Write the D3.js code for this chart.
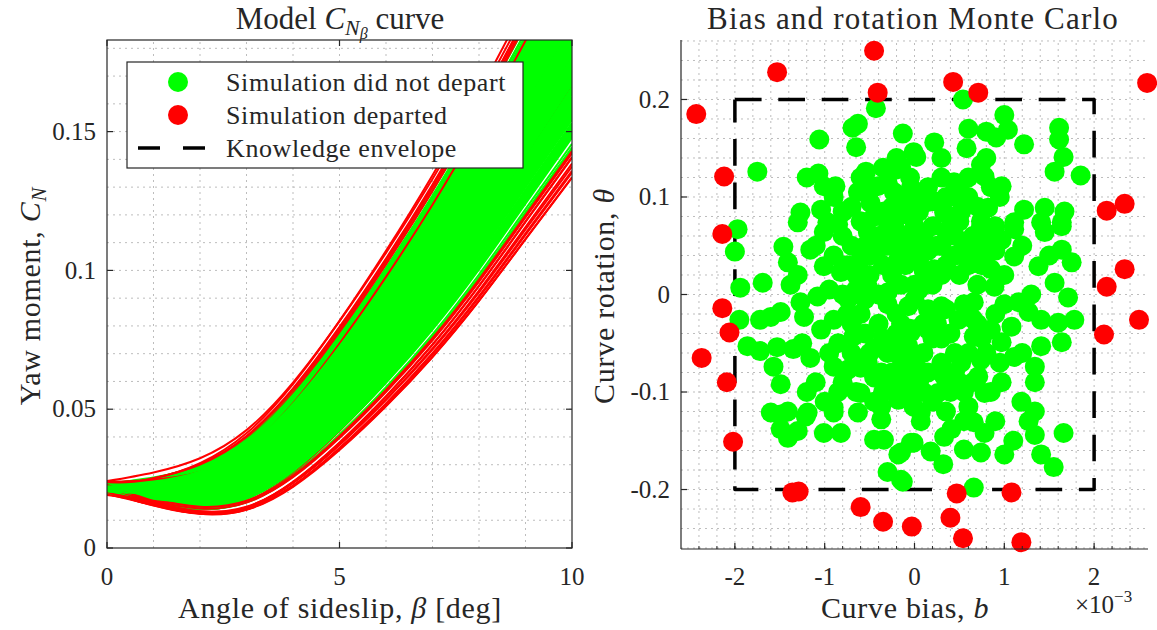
<!DOCTYPE html>
<html>
<head>
<meta charset="utf-8">
<script src="https://cdn.jsdelivr.net/npm/d3@7"></script>
<style>
  body { margin: 0; background: #fff; }
  text { font-family: "Liberation Serif", "Times New Roman", serif; fill: #262626; }
</style>
</head>
<body>
<svg id="fig" width="1157" height="630"></svg>
<script>
"use strict";

// ---------- data ----------
// nominal yaw moment curve (b = 0, theta = 0)
var betaGrid  = [0, 1, 2, 3, 4, 5, 6, 7, 8, 9, 10];
var cnNominal = [0.0215, 0.0205, 0.0215, 0.0275, 0.0405, 0.0585, 0.079, 0.1015, 0.1265, 0.1535, 0.1805];
var rotSlope = 0.019;   // change of C_N per deg of sideslip per unit rotation

// Monte Carlo samples: [bias (x1e-3), rotation]
var greenPts = [
  [-0.43,0.191],[-0.63,0.175],[-0.69,0.171],[-0.65,0.151],[-1.06,0.159],[-0.13,0.165],[-0.01,0.146],
  [-0.21,0.128],[-0.54,0.126],[-1.07,0.124],[-1.75,0.126],[-1.01,0.111],[-0.88,0.111],[-0.63,0.105],
  [-0.41,0.111],[-0.23,0.105],[-0.04,0.110],[-1.27,0.084],[-1.04,0.087],[-0.79,0.085],[-0.49,0.094],
  [-0.34,0.085],[-0.18,0.080],[-0.04,0.080],[-1.97,0.067],
  [0.54,0.200],[1.00,0.184],[0.60,0.170],[0.80,0.167],[0.91,0.161],[1.04,0.169],[0.22,0.156],
  [0.02,0.141],[0.58,0.150],[1.22,0.154],[1.61,0.171],[1.61,0.159],[1.66,0.141],[1.56,0.126],
  [1.85,0.122],[0.74,0.133],[0.78,0.121],[0.44,0.115],[0.97,0.111],[0.16,0.095],[-0.09,0.092],
  [0.82,0.089],[0.60,0.094],[1.22,0.087],[1.45,0.089],[1.67,0.085],[0.74,0.075],[1.11,0.074],
  [1.41,0.074],[1.64,0.074],[0.33,0.084],[0.52,0.085],[-0.15,0.131],
  [-2.00,0.044],[-1.94,0.007],[-1.95,-0.026],[-1.69,0.012],[-1.46,0.049],[-1.41,0.033],[-1.38,0.010],
  [-1.60,-0.023],[-1.72,-0.026],[-1.49,-0.018],[-1.86,-0.053],[-1.72,-0.058],[-1.53,-0.054],[-1.35,-0.056],
  [-1.57,-0.074],[-1.49,-0.092],[-1.16,-0.065],[-1.10,-0.090],[-1.60,-0.121],[-1.41,-0.120],[-1.19,-0.121],
  [-0.90,-0.116],[-1.16,0.046],[-1.01,0.064],[-1.30,0.074],[-1.01,0.029],[-1.23,-0.023],[-1.04,-0.036],
  [-0.90,-0.026],[-1.08,-0.002],[-1.27,-0.008],[-0.82,0.023],[-0.60,0.036],[-0.52,0.008],[-0.74,-0.005],
  [-0.68,-0.043],[-0.90,-0.074],[-0.74,-0.077],[-0.52,-0.070],[-0.60,-0.101],[-0.37,-0.080],[-0.30,-0.094],
  [-0.15,-0.087],[-0.37,-0.115],[-0.18,-0.108],[-0.01,-0.115],[-0.37,0.049],[-0.18,0.036],[-0.30,0.002],
  [-0.07,-0.012],[-0.04,-0.039],[-0.23,-0.053],[-0.01,-0.067],[-0.52,0.064],[-0.30,0.074],[-0.01,0.056],
  [-0.97,0.074],[-0.85,0.072],
  [0.74,0.070],[0.97,0.056],[1.11,0.067],[1.45,0.064],[1.64,0.070],[1.64,0.046],[1.75,0.033],
  [1.38,0.029],[1.11,0.039],[0.85,0.026],[1.56,0.012],[1.71,-0.003],[1.78,-0.026],[1.60,-0.029],
  [1.64,-0.049],[1.41,-0.053],[1.34,-0.074],[1.34,-0.090],[1.11,-0.064],[0.97,-0.090],[0.71,-0.084],
  [0.52,-0.070],[0.33,-0.084],[0.26,-0.101],[0.07,-0.121],[0.60,-0.115],[0.78,-0.101],[1.19,-0.110],
  [1.34,-0.120],[1.16,-0.008],[1.27,-0.018],[1.41,-0.026],[1.08,-0.033],[0.85,-0.036],[0.66,-0.043],
  [0.89,0.008],[0.82,0.043],[0.60,0.046],[0.41,0.039],[0.22,0.026],[-0.01,0.049],[0.07,0.008],
  [0.30,-0.012],[0.49,-0.026],[0.15,-0.036],[-0.07,-0.053],[0.04,-0.077],[0.66,-0.008],[0.97,-0.049],
  [0.74,-0.067],
  [-1.49,-0.123],[-1.21,-0.125],[-1.41,-0.147],[-1.49,-0.138],[-1.01,-0.142],[-0.82,-0.142],[-0.90,-0.121],
  [-0.63,-0.121],[-0.45,-0.149],[-0.34,-0.149],[-0.18,-0.164],[-0.30,-0.182],[-0.13,-0.192],[-0.01,-0.152],
  [-0.37,-0.128],
  [0.07,-0.130],[-0.04,-0.152],[0.18,-0.161],[0.32,-0.174],[0.41,-0.138],[0.33,-0.146],[0.55,-0.159],
  [0.66,-0.131],[0.78,-0.142],[0.74,-0.162],[1.00,-0.164],[0.66,-0.198],[-0.15,-0.190],[1.27,-0.130],
  [1.34,-0.144],[1.41,-0.164],[1.55,-0.177],[1.66,-0.142],[-0.15,-0.162],
  [-0.50,0.020],[-0.30,0.050],[-0.10,0.030],[0.10,0.060],[0.30,0.050],[0.50,0.020],[0.70,0.010],
  [-0.60,-0.020],[-0.40,-0.030],[-0.20,-0.020],[0.00,-0.005],[0.20,0.010],[0.40,-0.040],[0.60,-0.060],
  [-0.50,-0.060],[-0.30,-0.060],[-0.10,-0.080],[0.10,-0.060],[0.30,-0.070],[0.50,-0.090],[-0.45,0.080],
  [-0.25,0.090],[0.05,0.085],[0.20,0.070],[0.40,0.080],[-0.70,0.050],[-0.80,0.000],[-0.85,-0.050],
  [-0.65,-0.100],[-0.45,-0.110],[-0.20,-0.100],[0.10,-0.100],[0.35,-0.120],[0.55,-0.130],[-0.05,0.120],
  [0.15,0.110],[0.35,0.100],[-0.35,0.130],[0.90,-0.020],[1.00,0.020],[1.20,0.050],[1.30,0.000],
  [1.20,-0.060],[0.90,-0.130],[1.10,-0.150],[-1.20,0.120],[-1.30,0.020],[-1.25,-0.050],[-1.20,-0.100],
  [-1.00,-0.110],[-1.30,-0.140],[-0.60,0.120],[0.60,0.120],[0.80,0.140],[0.30,0.140],[-0.20,0.140],
  [0.00,0.010],[0.25,-0.030],[-0.15,0.060],[0.45,0.040],[0.65,0.060],[-0.90,0.100],[-0.75,0.030],
  [-1.10,0.050],[1.50,0.040],
  [-0.95,0.005],[-0.80,0.060],[-0.65,0.020],[-0.55,0.050],[-0.40,0.000],[-0.35,0.030],[-0.20,0.065],
  [-0.15,0.010],[-0.05,0.100],[0.05,0.035],[0.15,-0.015],[0.25,0.095],[0.30,0.020],[0.45,0.060],
  [0.55,-0.010],[0.60,0.100],[0.75,0.030],[0.80,-0.060],[0.65,-0.090],[0.45,-0.060],[0.40,-0.100],
  [0.20,-0.045],[0.05,-0.090],[-0.05,-0.035],[-0.15,-0.065],[-0.25,-0.080],[-0.45,-0.085],[-0.55,-0.040],
  [-0.70,-0.060],[-0.80,-0.090],[-0.95,-0.060],[-0.70,0.090],[-0.50,0.110],[-0.30,0.115],[0.00,0.070],
  [0.15,0.045],[0.30,0.120],[0.50,0.110],[0.70,0.090],[0.85,0.110],[0.90,0.070],[1.00,-0.010],
  [0.95,-0.070],[0.85,-0.100],[0.10,-0.030],[-0.35,-0.045],[-0.60,0.075],[-0.25,0.020],[0.35,-0.015],
  [0.55,0.050],
  [-0.90,0.040],[-0.70,-0.030],[-0.50,0.040],[-0.30,-0.010],[-0.10,0.045],[0.10,0.025],[0.30,-0.045],
  [0.50,0.075],[0.70,-0.030],[0.90,0.045],[-0.85,-0.100],[-0.65,0.005],[-0.45,-0.055],[-0.25,0.055],
  [-0.05,-0.100],[0.15,-0.080],[0.35,0.030],[0.55,-0.100],[0.75,-0.045],[0.95,0.100],[-0.60,-0.075],
  [-0.40,0.060],[-0.20,-0.040],[0.00,0.100],[0.20,-0.110],[0.40,0.100],[0.60,0.030],[0.80,0.060],
  [-0.80,0.085],[-0.10,-0.050],[0.25,0.050],[0.45,-0.080],[0.65,-0.025],[-0.35,-0.100],[-0.55,-0.005],
  [0.05,0.005],[-0.15,-0.030],[0.35,0.065],[0.70,0.045],[-0.75,-0.020]
];
var redPts = [
  [-0.45,0.250],[-1.53,0.228],[-0.41,0.207],[0.43,0.218],[0.71,0.207],[2.59,0.217],[-2.43,0.185],
  [-2.12,0.121],[-2.14,0.062],[-2.14,-0.014],[-2.06,-0.039],[-2.37,-0.065],[-2.09,-0.090],[-2.02,-0.151],
  [2.14,0.086],[2.34,0.093],[2.34,0.026],[2.14,0.008],[2.50,-0.026],[2.11,-0.041],[-1.36,-0.203],
  [-1.29,-0.202],[-0.60,-0.218],[-0.35,-0.233],[-0.03,-0.238],[0.47,-0.204],[1.08,-0.203],[0.40,-0.229],
  [0.54,-0.250],[1.19,-0.254]
];
// knowledge envelope
var envBias = [-2, 2];
var envRot = [-0.2, 0.2];

var leftXTicks = [0, 5, 10];
var leftYTicks = [0, 0.05, 0.1, 0.15];
var rightXTicks = [-2, -1, 0, 1, 2];
var rightYTicks = [-0.2, -0.1, 0, 0.1, 0.2];
var legendLabels = ["Simulation did not depart", "Simulation departed", "Knowledge envelope"];

var GREEN = "#00ff00", RED = "#ff0000", INK = "#262626", GRID = "#bdbdbd";

var svg = d3.select("#fig");

// ================= left panel =================
var xL = d3.scaleLinear().domain([0, 10]).range([107, 572]);
var yL = d3.scaleLinear().domain([0, 0.183]).range([548, 40]);
var gL = svg.append("g");

svg.append("defs").append("clipPath").attr("id", "clipL")
  .append("rect").attr("x", xL(0)).attr("y", yL(0.183))
  .attr("width", xL(10) - xL(0)).attr("height", yL(0) - yL(0.183));

// dotted grid
gL.selectAll(".gx").data(d3.range(1, 10)).enter().append("line")
  .attr("x1", function(d){ return xL(d); }).attr("x2", function(d){ return xL(d); })
  .attr("y1", yL(0)).attr("y2", yL(0.183))
  .attr("stroke", GRID).attr("stroke-dasharray", "2,4");
gL.selectAll(".gy").data(d3.range(1, 19)).enter().append("line")
  .attr("y1", function(d){ return yL(d / 100); }).attr("y2", function(d){ return yL(d / 100); })
  .attr("x1", xL(0)).attr("x2", xL(10))
  .attr("stroke", GRID).attr("stroke-dasharray", "2,4");

// curves: one per Monte Carlo sample, red ones interleaved in the draw order
var order = [];
var step = greenPts.length / redPts.length;
var ri = 0;
greenPts.forEach(function(p, i) {
  order.push({ p: p, c: GREEN });
  if (ri < redPts.length && i >= Math.floor((ri + 0.5) * step)) {
    order.push({ p: redPts[ri], c: RED });
    ri++;
  }
});
while (ri < redPts.length) { order.push({ p: redPts[ri], c: RED }); ri++; }

var line = d3.line()
  .x(function(d){ return xL(d[0]); })
  .y(function(d){ return yL(d[1]); })
  .curve(d3.curveNatural);

function curveOf(p) {
  return betaGrid.map(function(bt, i) {
    return [bt, cnNominal[i] + p[0] * 1e-3 + p[1] * bt * rotSlope];
  });
}

gL.append("g").attr("clip-path", "url(#clipL)")
  .selectAll("path").data(order).enter().append("path")
  .attr("d", function(d){ return line(curveOf(d.p)); })
  .attr("fill", "none")
  .attr("stroke", function(d){ return d.c; })
  .attr("stroke-width", 2);

// box
gL.append("rect").attr("x", xL(0)).attr("y", yL(0.183))
  .attr("width", xL(10) - xL(0)).attr("height", yL(0) - yL(0.183))
  .attr("fill", "none").attr("stroke", INK).attr("stroke-width", 1.2);

// ticks
leftXTicks.forEach(function(t) {
  gL.append("line").attr("x1", xL(t)).attr("x2", xL(t)).attr("y1", yL(0)).attr("y2", yL(0) - 6)
    .attr("stroke", INK).attr("stroke-width", 1.2);
  gL.append("line").attr("x1", xL(t)).attr("x2", xL(t)).attr("y1", yL(0.183)).attr("y2", yL(0.183) + 6)
    .attr("stroke", INK).attr("stroke-width", 1.2);
  gL.append("text").attr("x", xL(t)).attr("y", 585).attr("text-anchor", "middle")
    .attr("font-size", 25).text(t);
});
leftYTicks.forEach(function(t) {
  gL.append("line").attr("x1", xL(0)).attr("x2", xL(0) + 6).attr("y1", yL(t)).attr("y2", yL(t))
    .attr("stroke", INK).attr("stroke-width", 1.2);
  gL.append("line").attr("x1", xL(10)).attr("x2", xL(10) - 6).attr("y1", yL(t)).attr("y2", yL(t))
    .attr("stroke", INK).attr("stroke-width", 1.2);
  gL.append("text").attr("x", 96).attr("y", yL(t)).attr("dy", "0.33em").attr("text-anchor", "end")
    .attr("font-size", 25).text(t);
});

// legend
var lg = gL.append("g");
lg.append("rect").attr("x", 127).attr("y", 62).attr("width", 396).attr("height", 106)
  .attr("fill", "#fff").attr("stroke", INK).attr("stroke-width", 1.2);
lg.append("circle").attr("cx", 178).attr("cy", 82).attr("r", 10).attr("fill", GREEN);
lg.append("circle").attr("cx", 178).attr("cy", 115).attr("r", 10).attr("fill", RED);
lg.append("line").attr("x1", 138).attr("x2", 205).attr("y1", 148).attr("y2", 148)
  .attr("stroke", "#000").attr("stroke-width", 3.5).attr("stroke-dasharray", "22,23");
legendLabels.forEach(function(s, i) {
  lg.append("text").attr("x", 226).attr("y", 82 + i * 33).attr("dy", "0.33em")
    .attr("font-size", 26).attr("letter-spacing", 0.6).text(s);
});

// title and labels
var tL = svg.append("text").attr("x", 340).attr("y", 29).attr("text-anchor", "middle").attr("font-size", 31);
tL.append("tspan").text("Model ");
tL.append("tspan").attr("font-style", "italic").text("C");
tL.append("tspan").attr("font-style", "italic").attr("font-size", 22).attr("dy", 6).text("N");
tL.append("tspan").attr("font-style", "italic").attr("font-size", 16).attr("dy", 4).text("\u03b2");
tL.append("tspan").attr("dy", -10).text(" curve");

svg.append("text").attr("x", 340).attr("y", 618).attr("text-anchor", "middle").attr("font-size", 30)
  .attr("letter-spacing", 0.7)
  .call(function(t) {
    t.append("tspan").text("Angle of sideslip, ");
    t.append("tspan").attr("font-style", "italic").text("\u03b2");
    t.append("tspan").text(" [deg]");
  });

var yLab = svg.append("text").attr("transform", "translate(40,296) rotate(-90)")
  .attr("text-anchor", "middle").attr("font-size", 30).attr("letter-spacing", 0.7);
yLab.append("tspan").text("Yaw moment, ");
yLab.append("tspan").attr("font-style", "italic").text("C");
yLab.append("tspan").attr("font-style", "italic").attr("font-size", 21).attr("dy", 6).text("N");

// ================= right panel =================
var xR = d3.scaleLinear().domain([-2.6, 2.6]).range([681, 1148]);
var yR = d3.scaleLinear().domain([-0.261, 0.261]).range([549, 40]);
var gR = svg.append("g");

gR.selectAll(".gx").data(d3.range(-12, 13)).enter().append("line")
  .attr("x1", function(d){ return xR(d * 0.2); }).attr("x2", function(d){ return xR(d * 0.2); })
  .attr("y1", yR(-0.261)).attr("y2", yR(0.261))
  .attr("stroke", GRID).attr("stroke-dasharray", "2,4");
gR.selectAll(".gy").data(d3.range(-13, 14)).enter().append("line")
  .attr("y1", function(d){ return yR(d * 0.02); }).attr("y2", function(d){ return yR(d * 0.02); })
  .attr("x1", xR(-2.6)).attr("x2", xR(2.6))
  .attr("stroke", GRID).attr("stroke-dasharray", "2,4");

// knowledge envelope
var env = [[envBias[0], envRot[1]], [envBias[1], envRot[1]], [envBias[1], envRot[0]],
           [envBias[0], envRot[0]], [envBias[0], envRot[1]]];
gR.append("path")
  .attr("d", d3.line().x(function(d){ return xR(d[0]); }).y(function(d){ return yR(d[1]); })(env))
  .attr("fill", "none").attr("stroke", "#000").attr("stroke-width", 3.5)
  .attr("stroke-dasharray", "26.7,16.7").attr("stroke-linejoin", "round");

gR.selectAll(".g").data(greenPts).enter().append("circle")
  .attr("cx", function(d){ return xR(d[0]); }).attr("cy", function(d){ return yR(d[1]); })
  .attr("r", 10).attr("fill", GREEN);
gR.selectAll(".r").data(redPts).enter().append("circle")
  .attr("cx", function(d){ return xR(d[0]); }).attr("cy", function(d){ return yR(d[1]); })
  .attr("r", 10).attr("fill", RED);

// axes (left and bottom only)
gR.append("line").attr("x1", xR(-2.6)).attr("x2", xR(-2.6)).attr("y1", yR(-0.261)).attr("y2", yR(0.261))
  .attr("stroke", INK).attr("stroke-width", 1.2);
gR.append("line").attr("x1", xR(-2.6)).attr("x2", xR(2.6)).attr("y1", yR(-0.261)).attr("y2", yR(-0.261))
  .attr("stroke", INK).attr("stroke-width", 1.2);

d3.range(-12, 13).forEach(function(d) {
  gR.append("line").attr("x1", xR(d * 0.2)).attr("x2", xR(d * 0.2))
    .attr("y1", yR(-0.261)).attr("y2", yR(-0.261) - 3).attr("stroke", INK);
});
rightXTicks.forEach(function(t) {
  gR.append("line").attr("x1", xR(t)).attr("x2", xR(t)).attr("y1", yR(-0.261)).attr("y2", yR(-0.261) - 6)
    .attr("stroke", INK).attr("stroke-width", 1.2);
  gR.append("text").attr("x", xR(t)).attr("y", 585).attr("text-anchor", "middle")
    .attr("font-size", 25).text(t);
});
rightYTicks.forEach(function(t) {
  gR.append("line").attr("x1", xR(-2.6)).attr("x2", xR(-2.6) + 6).attr("y1", yR(t)).attr("y2", yR(t))
    .attr("stroke", INK).attr("stroke-width", 1.2);
  gR.append("text").attr("x", 670).attr("y", yR(t)).attr("dy", "0.33em").attr("text-anchor", "end")
    .attr("font-size", 25).text(t);
});

svg.append("text").attr("x", 913).attr("y", 29).attr("text-anchor", "middle")
  .attr("font-size", 31).attr("letter-spacing", 1.2).text("Bias and rotation Monte Carlo");

svg.append("text").attr("x", 905).attr("y", 618).attr("text-anchor", "middle").attr("font-size", 30)
  .attr("letter-spacing", 0.7)
  .call(function(t) {
    t.append("tspan").text("Curve bias, ");
    t.append("tspan").attr("font-style", "italic").text("b");
  });

svg.append("text").attr("x", 1075).attr("y", 613).attr("font-size", 25)
  .call(function(t) {
    t.append("tspan").text("\u00d710");
    t.append("tspan").attr("font-size", 17).attr("dy", -11).text("\u22123");
  });

var yRLab = svg.append("text").attr("transform", "translate(614,296) rotate(-90)")
  .attr("text-anchor", "middle").attr("font-size", 30).attr("letter-spacing", 0.7);
yRLab.append("tspan").text("Curve rotation, ");
yRLab.append("tspan").attr("font-style", "italic").text("\u03b8");
</script>
</body>
</html>
